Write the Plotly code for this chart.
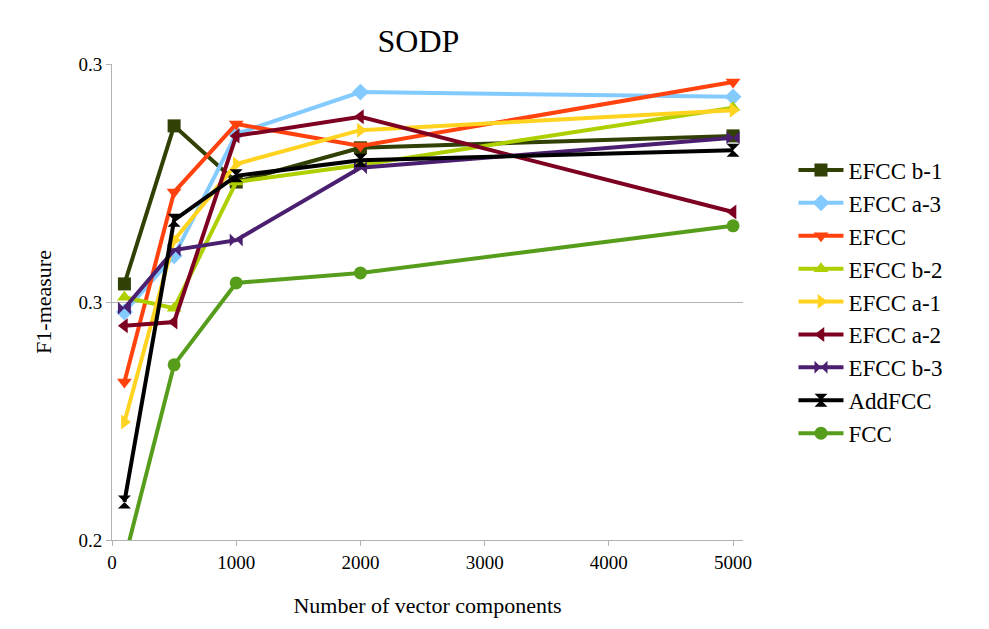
import plotly.graph_objects as go

x = [100, 500, 1000, 2000, 5000]
names = ["EFCC b-1", "EFCC a-3", "EFCC", "EFCC b-2", "EFCC a-1", "EFCC a-2", "EFCC b-3", "AddFCC", "FCC"]
values = [
    [0.2538, 0.2870, 0.2752, 0.2824, 0.2849],
    [0.2479, 0.2597, 0.2853, 0.2941, 0.2931],
    [0.2332, 0.2731, 0.2874, 0.2828, 0.2962],
    [0.2510, 0.2487, 0.2752, 0.2788, 0.2908],
    [0.2248, 0.2630, 0.2790, 0.2861, 0.2903],
    [0.2450, 0.2458, 0.2849, 0.2889, 0.2689],
    [0.2487, 0.2609, 0.2630, 0.2782, 0.2845],
    [0.2080, 0.2672, 0.2765, 0.2798, 0.2819],
    [0.1958, 0.2368, 0.2540, 0.2561, 0.2660],
]
colors = ["#314004", "#83CAFF", "#FF420E", "#AECF00", "#FFD320", "#7E0021", "#4B1F6F", "#000000", "#579D1C"]
symbols = ["square", "diamond", "triangle-down", "triangle-up", "triangle-right", "triangle-left", "bowtie", "hourglass", "circle"]

fig = go.Figure()
for n, v, c, s in zip(names, values, colors, symbols):
    fig.add_trace(go.Scatter(x=x, y=v, name=n, mode="lines+markers",
                             line=dict(color=c, width=4), marker=dict(symbol=s, size=13, color=c)))

serif = "Liberation Serif"
fig.update_layout(
    width=989, height=629, plot_bgcolor="white", paper_bgcolor="white",
    font=dict(family=serif, size=19, color="black"),
    title=dict(text="SODP", x=0.415, y=0.965, xanchor="center", font=dict(family=serif, size=32)),
    margin=dict(l=104, r=254, t=56, b=97, autoexpand=False),
    xaxis=dict(range=[0, 5080], tickvals=[0, 1000, 2000, 3000, 4000, 5000], showgrid=False,
               showline=True, linecolor="#b3b3b3", ticks="outside", tickcolor="#b3b3b3",
               tickfont=dict(family=serif, size=19),
               title=dict(text="Number of vector components", standoff=25, font=dict(family=serif, size=22)), zeroline=False),
    yaxis=dict(range=[0.2, 0.3], tickvals=[0.2, 0.25, 0.3], ticktext=["0.2", "0.3", "0.3"],
               showgrid=True, gridcolor="#b3b3b3", showline=True, linecolor="#b3b3b3",
               ticks="outside", tickcolor="#b3b3b3", tickfont=dict(family=serif, size=19),
               title=dict(text="F1-measure", font=dict(family=serif, size=22), standoff=20), zeroline=False),
    legend=dict(x=1.08, y=0.5, yanchor="middle", font=dict(family=serif, size=23), tracegroupgap=0, itemwidth=45),
)
fig.write_html("out.html")
